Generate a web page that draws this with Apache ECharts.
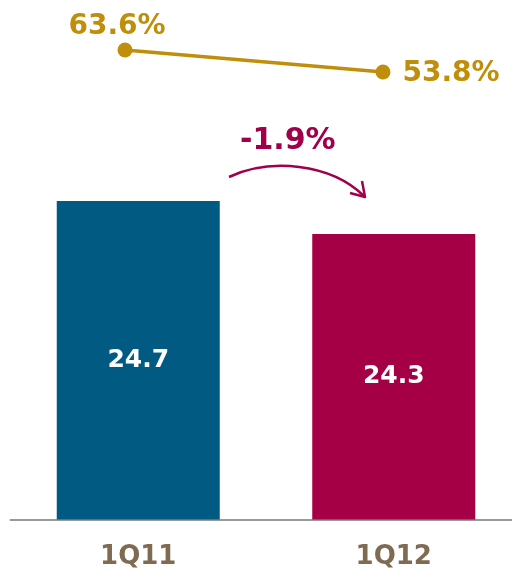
<!DOCTYPE html>
<html>
<head>
<meta charset="utf-8">
<script src="https://cdn.jsdelivr.net/npm/echarts@6/dist/echarts.min.js"></script>
<style>html,body{margin:0;padding:0;background:#fff;}#c{width:512px;height:569px;}</style>
</head>
<body>
<div id="c"></div>
<script>
const categories = ['1Q11', '1Q12'];
const barValues = [24.7, 24.3];
const marginValues = [63.6, 53.8];
const changeLabel = '-1.9%';
const barColors = ['#005A82', '#A50046'];

const FONT = '"DejaVu Sans", Verdana, sans-serif';
const chart = echarts.init(document.getElementById('c'));
chart.setOption({
  animation: false,
  grid: [
    { left: 10.5, right: -9.5, top: 100, bottom: 49.5, outerBoundsMode: 'none', containLabel: false },
    { left: -4, right: 0, top: 35.6, height: 157.2, outerBoundsMode: 'none', containLabel: false }
  ],
  xAxis: [
    { type: 'category', gridIndex: 0, data: categories,
      axisLine: { lineStyle: { color: '#999999', width: 2 } },
      axisTick: { show: false },
      axisLabel: { margin: 25, color: '#7F6A52', fontSize: 26, fontWeight: 'bold', fontFamily: FONT } },
    { type: 'category', gridIndex: 1, data: categories, show: false }
  ],
  yAxis: [
    { type: 'value', gridIndex: 0, min: 20.85, max: 25.92, show: false, splitLine: { show: false } },
    { type: 'value', gridIndex: 1, min: 0, max: 70, show: false, splitLine: { show: false } }
  ],
  series: [
    { type: 'bar', xAxisIndex: 0, yAxisIndex: 0, barWidth: 163,
      data: barValues.map((v, i) => ({ value: v, itemStyle: { color: barColors[i] } })),
      label: { show: true, position: 'inside', color: '#ffffff', fontSize: 25, fontWeight: 'bold', fontFamily: FONT,
        formatter: p => p.value.toFixed(1) } },
    { type: 'line', xAxisIndex: 1, yAxisIndex: 1,
      data: marginValues.map((v, i) => ({ value: v,
        label: i === 0 ? { position: 'top', offset: [-8, 3] } : { position: 'right', distance: 12, offset: [0, 2] } })),
      symbol: 'circle', symbolSize: 15,
      lineStyle: { color: '#BF8E0A', width: 3.5 },
      itemStyle: { color: '#BF8E0A' },
      label: { show: true, color: '#BF8E0A', fontSize: 28, fontWeight: 'bold', fontFamily: FONT,
        formatter: p => p.value.toFixed(1) + '%' } }
  ],
  graphic: [
    { type: 'text', left: 240, top: 126, style: { text: changeLabel, fill: '#A0004A', font: 'bold 30px ' + FONT } },
    { type: 'bezierCurve', shape: { x1: 229, y1: 177, cpx1: 270, cpy1: 158, cpx2: 330, cpy2: 163, x2: 364, y2: 196 },
      style: { stroke: '#A0004A', lineWidth: 2.5, fill: null } },
    { type: 'polyline', shape: { points: [[362, 181], [365, 197], [350, 193]] },
      style: { stroke: '#A0004A', lineWidth: 2.5, fill: null, lineJoin: 'round' } }
  ]
});
</script>
</body>
</html>
